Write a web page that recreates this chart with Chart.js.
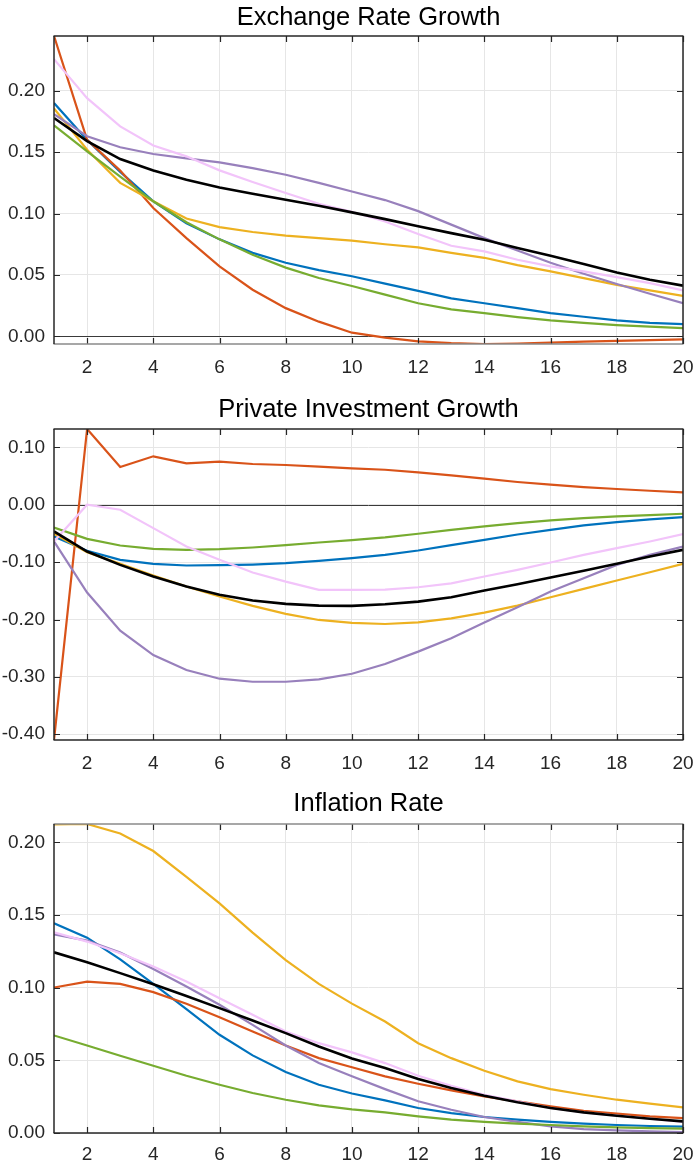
<!DOCTYPE html>
<html>
<head>
<meta charset="utf-8">
<script src="https://cdn.jsdelivr.net/npm/chart.js@4/dist/chart.umd.min.js"></script>
<style>
  html, body { margin: 0; padding: 0; background: #fff; }
  body { width: 695px; height: 1164px; position: relative; overflow: hidden; }
  canvas { position: absolute; left: 0; display: block; }
</style>
</head>
<body>
<canvas id="exchange" width="695" height="390" style="top:0px"></canvas>
<canvas id="investment" width="695" height="390" style="top:390px"></canvas>
<canvas id="inflation" width="695" height="384" style="top:780px"></canvas>
<script>
// Horizon (quarters) on the x axis
const horizons = [1,2,3,4,5,6,7,8,9,10,11,12,13,14,15,16,17,18,19,20];
const xTicks = [2,4,6,8,10,12,14,16,18,20];

// Exchange Rate Growth
const exchangeTicks = [0, 0.05, 0.10, 0.15, 0.20];
const exchangeBlue   = [0.190,0.160,0.134,0.110,0.092,0.079,0.068,0.060,0.054,0.049,0.043,0.037,0.031,0.027,0.023,0.019,0.016,0.013,0.011,0.010];
const exchangeOrange = [0.2446,0.160,0.135,0.1045,0.080,0.057,0.038,0.023,0.012,0.003,-0.001,-0.004,-0.0055,-0.0062,-0.0058,-0.005,-0.0042,-0.0036,-0.003,-0.0025];
const exchangeYellow = [0.1856,0.152,0.125,0.110,0.096,0.089,0.085,0.082,0.080,0.078,0.075,0.0725,0.068,0.064,0.058,0.053,0.0475,0.042,0.0375,0.033];
const exchangePurple = [0.181,0.163,0.154,0.1485,0.145,0.1417,0.137,0.1316,0.125,0.118,0.111,0.102,0.091,0.080,0.070,0.060,0.051,0.0426,0.0347,0.0271];
const exchangeGreen  = [0.1718,0.1506,0.130,0.110,0.093,0.079,0.0665,0.056,0.0475,0.041,0.034,0.027,0.022,0.019,0.0157,0.013,0.011,0.0092,0.0079,0.0068];
const exchangePink   = [0.2258,0.194,0.171,0.1555,0.1466,0.1352,0.1257,0.1167,0.108,0.1015,0.0936,0.0833,0.0738,0.0692,0.0624,0.057,0.0529,0.0483,0.0434,0.0375];
const exchangeBlack  = [0.1778,0.159,0.1444,0.135,0.1276,0.1213,0.1162,0.1113,0.1064,0.101,0.0955,0.0896,0.0841,0.0787,0.0719,0.0657,0.0589,0.0521,0.0461,0.0413];

// Private Investment Growth
const investmentTicks = [-0.40, -0.30, -0.20, -0.10, 0, 0.10];
const investmentBlue   = [-0.0553,-0.0803,-0.096,-0.103,-0.1059,-0.1053,-0.1042,-0.1019,-0.0978,-0.0931,-0.0873,-0.0797,-0.0704,-0.0611,-0.0518,-0.0437,-0.0361,-0.0303,-0.0256,-0.0215];
const investmentOrange = [-0.410,0.132,0.0658,0.0844,0.0722,0.0751,0.071,0.0693,0.0663,0.0635,0.061,0.0565,0.0512,0.0454,0.0396,0.035,0.0308,0.0274,0.0244,0.0215];
const investmentYellow = [-0.0506,-0.0826,-0.103,-0.1234,-0.1426,-0.160,-0.1763,-0.1903,-0.2008,-0.2060,-0.2078,-0.2049,-0.1979,-0.188,-0.1758,-0.1612,-0.1467,-0.1321,-0.1176,-0.103];
const investmentPurple = [-0.064,-0.153,-0.2194,-0.2619,-0.288,-0.3032,-0.3085,-0.3085,-0.3044,-0.2945,-0.2776,-0.256,-0.2328,-0.2054,-0.1787,-0.1513,-0.128,-0.1048,-0.0873,-0.0728];
const investmentGreen  = [-0.0396,-0.0594,-0.071,-0.0768,-0.0786,-0.0774,-0.0745,-0.0704,-0.0658,-0.0617,-0.057,-0.0506,-0.0437,-0.0378,-0.032,-0.0274,-0.0233,-0.0204,-0.018,-0.0157];
const investmentPink   = [-0.064,0.000,-0.0087,-0.0407,-0.0728,-0.096,-0.118,-0.1339,-0.1484,-0.1484,-0.148,-0.1438,-0.137,-0.125,-0.1135,-0.1007,-0.0873,-0.0757,-0.064,-0.0512];
const investmentBlack  = [-0.0466,-0.0815,-0.1048,-0.1251,-0.1426,-0.157,-0.167,-0.1728,-0.1758,-0.1763,-0.1734,-0.1688,-0.1612,-0.1496,-0.1385,-0.1269,-0.1152,-0.103,-0.0902,-0.0786];

// Inflation Rate
const inflationTicks = [0, 0.05, 0.10, 0.15, 0.20];
const inflationBlue   = [0.1443,0.1344,0.1195,0.1026,0.0852,0.0676,0.0534,0.0419,0.0332,0.0272,0.0224,0.0172,0.0137,0.011,0.0092,0.0076,0.0064,0.0055,0.0048,0.0044];
const inflationOrange = [0.1001,0.1042,0.1026,0.0969,0.0889,0.0797,0.0698,0.0602,0.0515,0.0452,0.039,0.0339,0.0293,0.0252,0.0218,0.0183,0.0153,0.0133,0.0115,0.0103];
const inflationYellow = [0.2123,0.2126,0.2061,0.194,0.1763,0.158,0.1379,0.119,0.1026,0.089,0.0767,0.0618,0.0515,0.0428,0.0355,0.0302,0.0263,0.0229,0.0202,0.0176];
const inflationPurple = [0.1367,0.1324,0.1241,0.1129,0.1008,0.0882,0.0744,0.0602,0.0481,0.039,0.0302,0.0218,0.016,0.011,0.0076,0.0046,0.0027,0.0018,0.0011,0.0007];
const inflationGreen  = [0.0671,0.0602,0.0531,0.0463,0.0394,0.0332,0.0275,0.0229,0.019,0.0163,0.0142,0.0115,0.0092,0.0076,0.0064,0.0055,0.0046,0.0039,0.0034,0.003];
const inflationPink   = [0.1381,0.1317,0.1237,0.1145,0.1042,0.0927,0.0813,0.0698,0.0618,0.0555,0.0481,0.0394,0.0325,0.0263,0.0218,0.0172,0.0142,0.0119,0.0098,0.0076];
const inflationBlack  = [0.1243,0.1175,0.11,0.1024,0.0943,0.0859,0.0774,0.0687,0.0595,0.0512,0.0447,0.0371,0.0309,0.0256,0.0211,0.0172,0.0142,0.0119,0.0098,0.008];

// Line colours (black drawn on top, then pink, ...)
const palette = {
  black:  '#000000',
  pink:   '#F2C4FA',
  green:  '#77AC30',
  purple: '#9880BC',
  yellow: '#EDB120',
  orange: '#D95319',
  blue:   '#0072BD'
};

const FONT = '"Liberation Sans", Arial, Helvetica, sans-serif';
const AXIS_DARK = '#262626';

// Box, inward tick marks, zero line and panel title, in the classic boxed-axes style
const framePlugin = {
  id: 'frame',
  beforeDatasetsDraw(chart, args, opts) {
    const { ctx, chartArea: a, scales } = chart;
    if (opts.zeroLine) {
      const y = Math.round(scales.y.getPixelForValue(0)) + 0.5;
      ctx.save();
      ctx.strokeStyle = '#3a3a3a';
      ctx.lineWidth = 1;
      ctx.beginPath(); ctx.moveTo(a.left, y); ctx.lineTo(a.right, y); ctx.stroke();
      ctx.restore();
    }
  },
  afterDatasetsDraw(chart, args, opts) {
    const { ctx, chartArea: a, scales } = chart;
    const L = a.left, R = a.right, T = a.top, B = a.bottom;
    const len = 6;
    ctx.save();
    ctx.lineWidth = 1.2;
    ctx.strokeStyle = AXIS_DARK;
    // tick marks pointing inward on all four sides
    ctx.beginPath();
    xTicks.forEach(v => {
      const x = Math.round(scales.x.getPixelForValue(v)) + 0.5;
      ctx.moveTo(x, B); ctx.lineTo(x, B - len);
      ctx.moveTo(x, T); ctx.lineTo(x, T + len);
    });
    opts.yTicks.forEach(v => {
      const y = Math.round(scales.y.getPixelForValue(v)) + 0.5;
      ctx.moveTo(L, y); ctx.lineTo(L + len, y);
      ctx.moveTo(R, y); ctx.lineTo(R - len, y);
    });
    ctx.stroke();
    // box edges
    const edge = (color, w, x1, y1, x2, y2) => {
      ctx.strokeStyle = color; ctx.lineWidth = w;
      ctx.beginPath(); ctx.moveTo(x1, y1); ctx.lineTo(x2, y2); ctx.stroke();
    };
    edge(opts.topColor || AXIS_DARK, 1.5, L - 0.5, T, R + 0.5, T);
    edge(opts.bottomColor || AXIS_DARK, 1.5, L - 0.5, B, R + 0.5, B);
    edge(AXIS_DARK, 1.5, L, T, L, B);
    edge(AXIS_DARK, 1.5, R, T, R, B);
    ctx.restore();
  },
  afterDraw(chart, args, opts) {
    const { ctx, chartArea: a } = chart;
    ctx.save();
    ctx.fillStyle = '#000';
    ctx.font = '25.5px ' + FONT;
    ctx.textAlign = 'center';
    ctx.textBaseline = 'middle';
    ctx.fillText(opts.title, (a.left + a.right) / 2, opts.titleY);
    ctx.restore();
  }
};

function toPoints(values) {
  return horizons.map((h, i) => ({ x: h, y: values[i] }));
}

function makePanel(canvasId, cfg) {
  const order = ['black', 'pink', 'green', 'purple', 'yellow', 'orange', 'blue'];
  const datasets = order.map(name => ({
    label: name,
    data: toPoints(cfg.series[name]),
    borderColor: palette[name],
    borderWidth: name === 'black' ? 2.6 : 2.2,
    pointRadius: 0,
    tension: 0,
    fill: false
  }));
  return new Chart(document.getElementById(canvasId), {
    type: 'line',
    data: { datasets },
    plugins: [framePlugin],
    options: {
      responsive: false,
      animation: false,
      events: [],
      layout: { padding: { top: cfg.padTop, right: 12, left: 0, bottom: 0 } },
      plugins: {
        legend: { display: false },
        tooltip: { enabled: false },
        title: { display: false },
        frame: {
          title: cfg.title,
          titleY: cfg.titleY,
          yTicks: cfg.yTicks,
          zeroLine: cfg.zeroLine,
          topColor: cfg.topColor,
          bottomColor: cfg.bottomColor
        }
      },
      scales: {
        x: {
          type: 'linear',
          min: 1,
          max: 20,
          afterBuildTicks: s => { s.ticks = xTicks.map(v => ({ value: v })); },
          afterFit: s => { s.height = cfg.xHeight; s.paddingLeft = 0; s.paddingRight = 0; },
          grid: { color: '#e6e6e6', lineWidth: 1, drawTicks: false },
          border: { display: false },
          ticks: {
            padding: cfg.xPad,
            maxRotation: 0,
            autoSkip: false,
            color: AXIS_DARK,
            font: { family: FONT, size: 19 },
            callback: v => String(v)
          }
        },
        y: {
          type: 'linear',
          min: cfg.yMin,
          max: cfg.yMax,
          afterBuildTicks: s => { s.ticks = cfg.yTicks.map(v => ({ value: v })); },
          afterFit: s => { s.width = 54; s.paddingTop = 0; s.paddingBottom = 0; },
          grid: { color: '#e6e6e6', lineWidth: 1, drawTicks: false },
          border: { display: false },
          ticks: {
            padding: 9,
            autoSkip: false,
            color: AXIS_DARK,
            font: { family: FONT, size: 19 },
            callback: v => Number(v).toFixed(2)
          }
        }
      }
    }
  });
}

makePanel('exchange', {
  title: 'Exchange Rate Growth', titleY: 18,
  padTop: 36, xHeight: 46, xPad: 12,
  yMin: -0.0062, yMax: 0.2446, yTicks: exchangeTicks, zeroLine: true,
  bottomColor: '#8a8a8a',
  series: { blue: exchangeBlue, orange: exchangeOrange, yellow: exchangeYellow, purple: exchangePurple,
            green: exchangeGreen, pink: exchangePink, black: exchangeBlack }
});

makePanel('investment', {
  title: 'Private Investment Growth', titleY: 20,
  padTop: 39, xHeight: 40, xPad: 12,
  yMin: -0.410, yMax: 0.132, yTicks: investmentTicks, zeroLine: true,
  series: { blue: investmentBlue, orange: investmentOrange, yellow: investmentYellow, purple: investmentPurple,
            green: investmentGreen, pink: investmentPink, black: investmentBlack }
});

makePanel('inflation', {
  title: 'Inflation Rate', titleY: 24,
  padTop: 44, xHeight: 31, xPad: 10,
  yMin: 0, yMax: 0.2126, yTicks: inflationTicks, zeroLine: false,
  topColor: '#8a8a8a',
  series: { blue: inflationBlue, orange: inflationOrange, yellow: inflationYellow, purple: inflationPurple,
            green: inflationGreen, pink: inflationPink, black: inflationBlack }
});
</script>
</body>
</html>
